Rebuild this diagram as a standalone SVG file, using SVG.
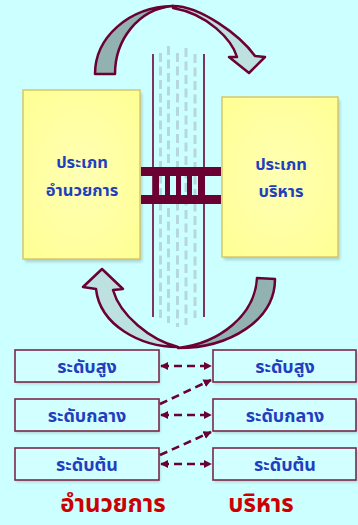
<svg xmlns="http://www.w3.org/2000/svg" width="358" height="525" viewBox="0 0 358 525">
<style>
.th{font-family:"Noto Sans Thai","Noto Sans","DejaVu Sans",sans-serif;font-weight:bold;text-anchor:middle}
.blue{fill:#1f3fbf;font-size:16.5px}
.lv{font-size:18px}
.red{fill:#cc0000;font-size:24px}
.ybox{fill:url(#yg);stroke:#d6c86a;stroke-width:1.5}
.lbox{fill:#d2ffff;stroke:#7a2848;stroke-width:1.6}
.shadow{fill:#6a7a78;opacity:0.35}
.arc{stroke:#6b0033;stroke-width:2.5;stroke-linejoin:round}
.dash{stroke:#b6d8dc;stroke-width:3;stroke-dasharray:9 4.5}
.vline{stroke:#6b0033;stroke-width:1.6}
.bar{fill:#6b0033}
.conn{stroke:#6b0033;stroke-width:2.6;stroke-dasharray:8 5;fill:none}
</style>
<defs>
<radialGradient id="yg" cx="0.5" cy="0.5" r="0.7">
<stop offset="0" stop-color="#ffffb4"/>
<stop offset="1" stop-color="#ffff94"/>
</radialGradient>
<filter id="blur" x="-10%" y="-10%" width="120%" height="120%"><feGaussianBlur stdDeviation="1.5"/></filter>
<marker id="ah" viewBox="0 0 10 10" refX="9" refY="5" markerWidth="3.2" markerHeight="3.2" orient="auto-start-reverse" markerUnits="strokeWidth">
<path d="M0,0 L10,5 L0,10 Z" fill="#6b0033"/>
</marker>
</defs>
<rect width="358" height="525" fill="#ccffff"/>

<g id="center-column">
<line class="dash" x1="160.5" y1="53" x2="160.5" y2="318"/>
<line class="dash" x1="168.5" y1="46" x2="168.5" y2="323"/>
<line class="dash" x1="177.5" y1="53" x2="177.5" y2="327"/>
<line class="dash" x1="186" y1="48" x2="186" y2="325"/>
<line class="dash" x1="195" y1="54" x2="195" y2="318"/>
<line class="vline" x1="153" y1="54" x2="153" y2="317"/>
<line class="vline" x1="204" y1="54" x2="204" y2="317"/>
</g>

<g id="arrow-top">
<path class="arc" fill="#92b2b2" d="M95,74 C95,38 128,7 173,6 C138,9 115,40 115,74 Z"/>
<path class="arc" fill="#bde0e0" d="M173,6 C200,6 240,35 255,56 L265,57 L249,73 L229,57 L237,57 C232,40 208,14 173,8 Z"/>
</g>

<g id="arrow-bottom">
<path class="arc" fill="#92b2b2" d="M257,278 L275,279 C275,320 230,348 178,348 C220,343 255,315 257,278 Z"/>
<path class="arc" fill="#bde0e0" d="M102,269 L123,289 L113,290 C120,315 150,340 178,347 C140,347 100,325 96,289 L83,287 Z"/>
</g>

<g id="node-admin-type">
<rect class="shadow" x="25" y="93" width="117" height="169" filter="url(#blur)"/>
<rect class="ybox" x="23" y="90" width="117" height="169"/>
<text class="th blue" x="82" y="168">ประเภท</text>
<text class="th blue" x="82" y="196">อำนวยการ</text>
</g>

<g id="node-exec-type">
<rect class="shadow" x="224" y="100" width="116" height="160" filter="url(#blur)"/>
<rect class="ybox" x="222" y="97" width="116" height="160"/>
<text class="th blue" x="281" y="170">ประเภท</text>
<text class="th blue" x="281" y="197">บริหาร</text>
</g>

<g id="bridge">
<rect class="bar" x="141" y="167" width="80" height="9"/>
<rect class="bar" x="141" y="195" width="80" height="9"/>
<rect class="bar" x="153" y="176" width="6" height="19"/>
<rect class="bar" x="165" y="176" width="5" height="19"/>
<rect class="bar" x="176" y="176" width="5" height="19"/>
<rect class="bar" x="187" y="176" width="5" height="19"/>
<rect class="bar" x="198" y="176" width="7" height="19"/>
</g>

<g id="node-l-high">
<rect class="shadow" x="16" y="352" width="144" height="32" filter="url(#blur)"/>
<rect class="lbox" x="15" y="350" width="144" height="32"/>
<text class="th blue lv" x="87" y="373">ระดับสูง</text>
</g>
<g id="node-l-mid">
<rect class="shadow" x="16" y="401" width="144" height="32" filter="url(#blur)"/>
<rect class="lbox" x="15" y="399" width="144" height="32"/>
<text class="th blue lv" x="87" y="422">ระดับกลาง</text>
</g>
<g id="node-l-low">
<rect class="shadow" x="16" y="450" width="144" height="32" filter="url(#blur)"/>
<rect class="lbox" x="15" y="448" width="144" height="32"/>
<text class="th blue lv" x="87" y="471">ระดับต้น</text>
</g>
<g id="node-r-high">
<rect class="shadow" x="214" y="352" width="144" height="32" filter="url(#blur)"/>
<rect class="lbox" x="213" y="350" width="143" height="32"/>
<text class="th blue lv" x="285" y="373">ระดับสูง</text>
</g>
<g id="node-r-mid">
<rect class="shadow" x="214" y="401" width="144" height="32" filter="url(#blur)"/>
<rect class="lbox" x="213" y="399" width="143" height="32"/>
<text class="th blue lv" x="285" y="422">ระดับกลาง</text>
</g>
<g id="node-r-low">
<rect class="shadow" x="214" y="450" width="144" height="32" filter="url(#blur)"/>
<rect class="lbox" x="213" y="448" width="143" height="32"/>
<text class="th blue lv" x="285" y="471">ระดับต้น</text>
</g>

<g id="connectors">
<line class="conn" x1="161" y1="366" x2="211" y2="366" marker-start="url(#ah)" marker-end="url(#ah)"/>
<line class="conn" x1="161" y1="415" x2="211" y2="415" marker-start="url(#ah)" marker-end="url(#ah)"/>
<line class="conn" x1="161" y1="464" x2="211" y2="464" marker-start="url(#ah)" marker-end="url(#ah)"/>
<line class="conn" x1="160" y1="404" x2="211" y2="380" marker-end="url(#ah)"/>
<line class="conn" x1="160" y1="455" x2="211" y2="432" marker-end="url(#ah)"/>
</g>

<g id="labels">
<text class="th red" x="113" y="512">อำนวยการ</text>
<text class="th red" x="261" y="512">บริหาร</text>
</g>
</svg>
